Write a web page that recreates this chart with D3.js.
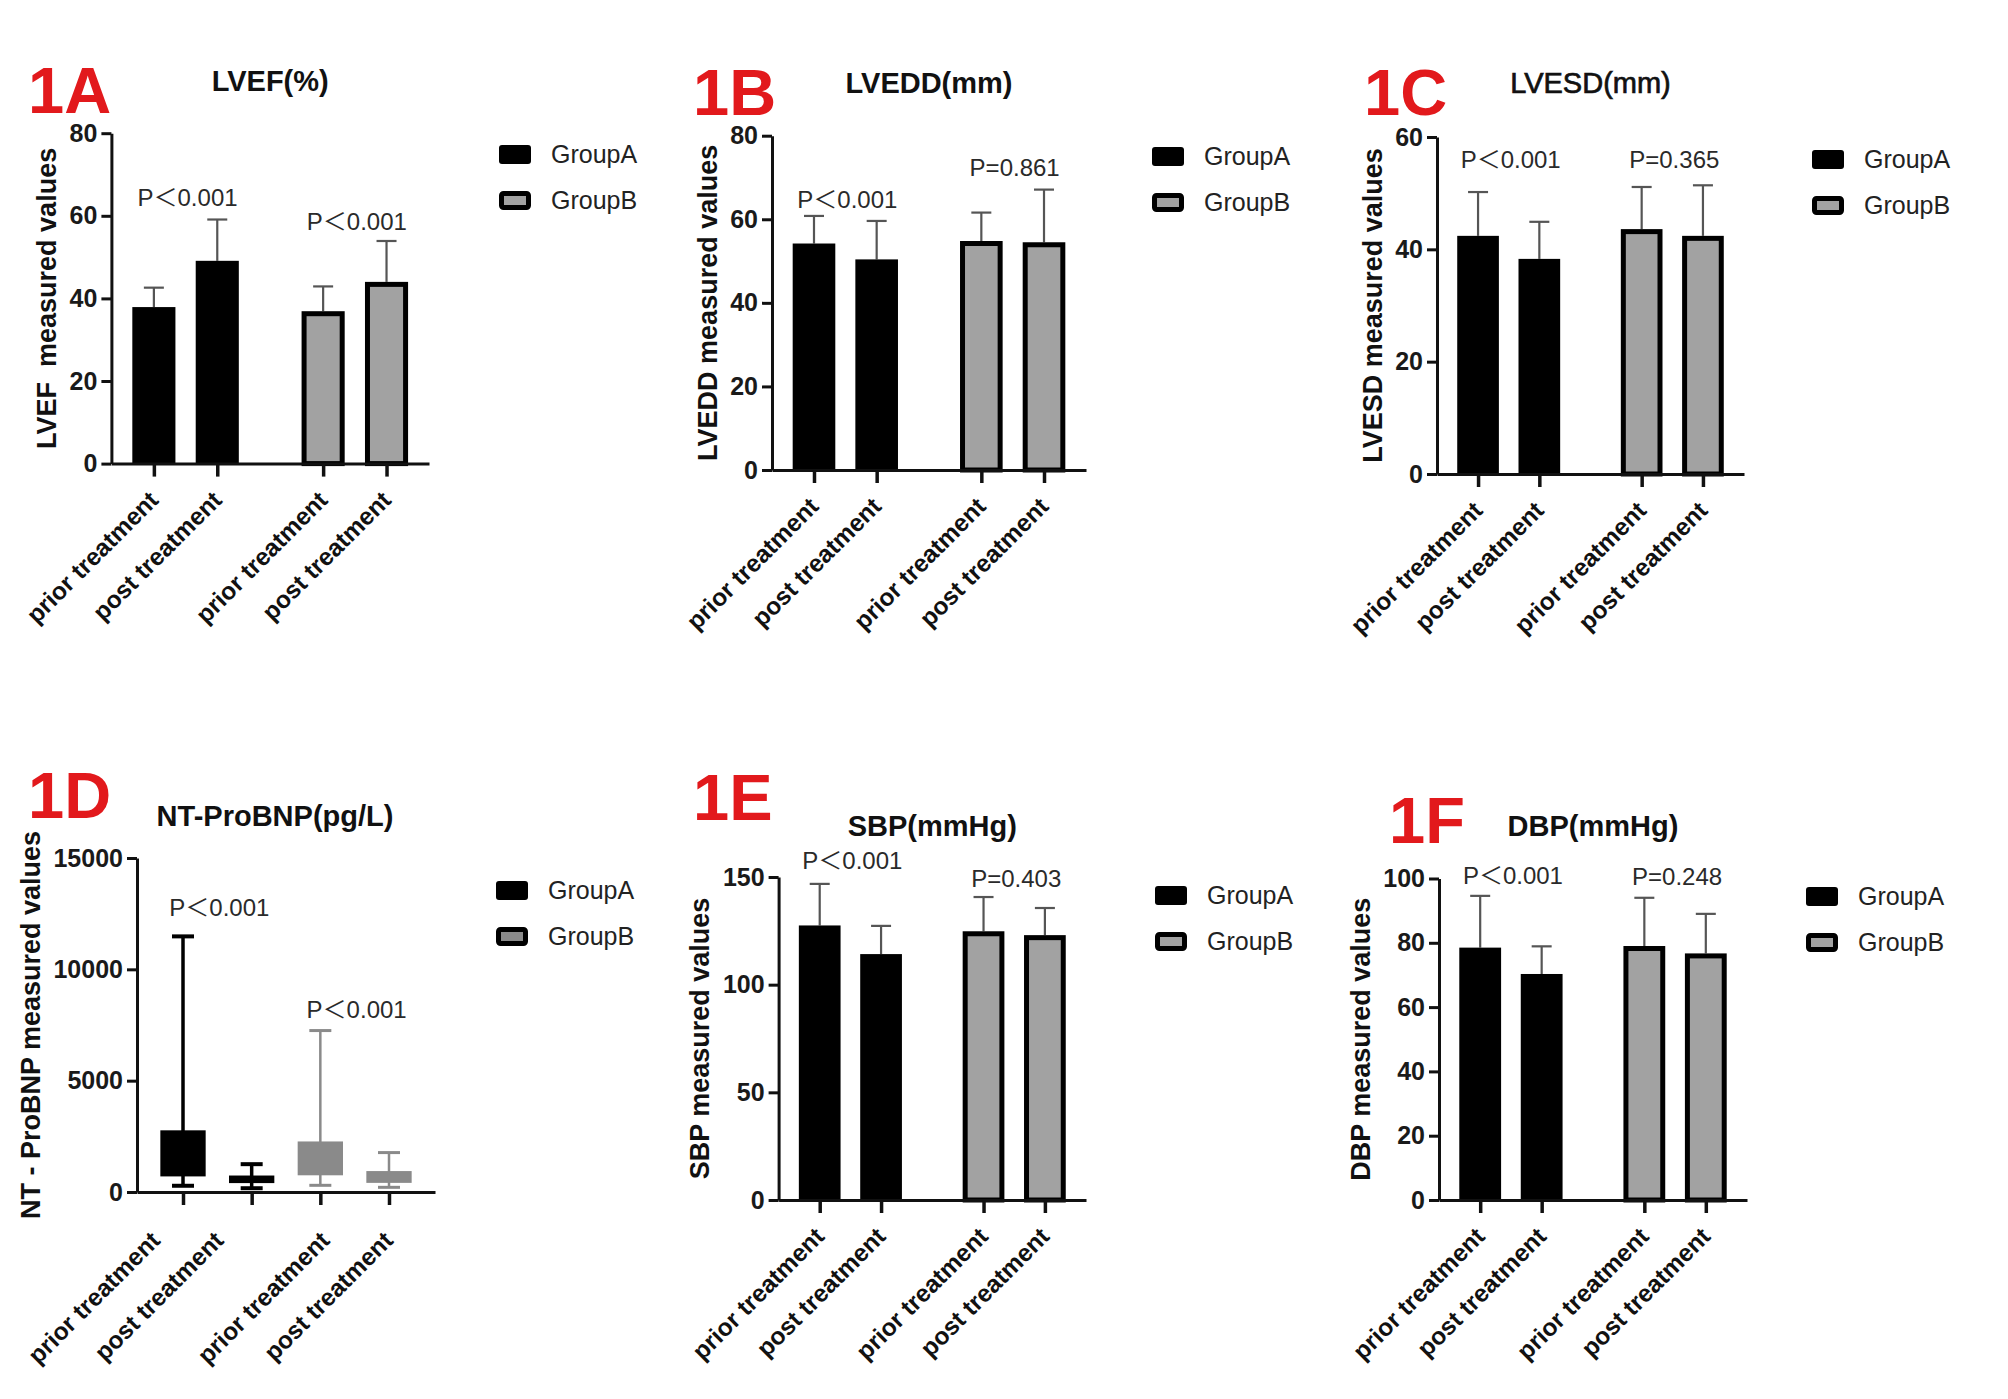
<!DOCTYPE html>
<html><head><meta charset="utf-8">
<script src="https://cdn.jsdelivr.net/npm/d3@7"></script>
<style>
body{margin:0;background:#fff}
svg{display:block}
text{font-family:"Liberation Sans",Arial,"Noto Sans CJK SC",sans-serif}
</style>
</head><body>
<svg id="chart" width="2008" height="1399"></svg>
<script>
// ---------- data ----------
const categories = ["prior treatment","post treatment","prior treatment","post treatment"];
const groupOf = ["GroupA","GroupA","GroupB","GroupB"];
const groupNames = ["GroupA","GroupB"];

const lvefTicks = [0,20,40,60,80];
const lvefMean  = [37.9, 49.1, 36.9, 44.0];
const lvefSD    = [4.7, 10.0, 6.0, 9.9];
const lvefP     = ["P＜0.001","P＜0.001"];
const lvefPY    = [64.5, 58.6];

const lveddTicks = [0,20,40,60,80];
const lveddMean  = [54.2, 50.4, 54.8, 54.5];
const lveddSD    = [6.6, 9.2, 6.8, 12.6];
const lveddP     = ["P＜0.001","P=0.861"];
const lveddPY    = [64.7, 72.3];

const lvesdTicks = [0,20,40,60];
const lvesdMean  = [42.4, 38.3, 43.6, 42.4];
const lvesdSD    = [7.8, 6.6, 7.5, 9.0];
const lvesdP     = ["P＜0.001","P=0.365"];
const lvesdPY    = [55.9, 55.9];

const bnpTicks = [0,5000,10000,15000];
const bnpMin   = [280, 170, 300, 210];
const bnpQ1    = [700, 400, 750, 410];
const bnpQ3    = [2770, 740, 2270, 940];
const bnpMax   = [11480, 1250, 7250, 1770];
const bnpP     = ["P＜0.001","P＜0.001"];
const bnpPY    = [12764, 8180];

const sbpTicks = [0,50,100,150];
const sbpMean  = [127.5, 114.2, 124.8, 123.0];
const sbpSD    = [19.3, 13.1, 15.9, 12.6];
const sbpP     = ["P＜0.001","P=0.403"];
const sbpPY    = [157.6, 149.3];

const dbpTicks = [0,20,40,60,80,100];
const dbpMean  = [78.5, 70.3, 79.0, 76.7];
const dbpSD    = [16.1, 8.6, 15.0, 12.3];
const dbpP     = ["P＜0.001","P=0.248"];
const dbpPY    = [100.8, 100.5];

// ---------- panels ----------
const panels = [
  {tag:"1A", title:"LVEF(%)", ylab:"LVEF  measured values", ticks:lvefTicks, mean:lvefMean, sd:lvefSD, p:lvefP, pY:lvefPY,
   L:{x0:111.4,x1:429,yT:133.2,yB:463.6, tagX:28,tagY:113, titleY:81, titleDx:0, legX:499, legY:145, lblDy:38}},
  {tag:"1B", title:"LVEDD(mm)", ylab:"LVEDD measured values", ticks:lveddTicks, mean:lveddMean, sd:lveddSD, p:lveddP, pY:lveddPY,
   L:{x0:772,x1:1086,yT:135.7,yB:470, tagX:693,tagY:115, titleY:83, titleDx:0, legX:1152, legY:147, lblDy:38}},
  {tag:"1C", title:"LVESD(mm)", ylab:"LVESD measured values", ticks:lvesdTicks, mean:lvesdMean, sd:lvesdSD, p:lvesdP, pY:lvesdPY, lightTitle:true,
   L:{x0:1437,x1:1744,yT:137,yB:474, tagX:1364,tagY:115, titleY:83, titleDx:0, legX:1812, legY:150, lblDy:38}},
  {tag:"1D", title:"NT-ProBNP(pg/L)", ylab:"NT - ProBNP measured values", ticks:bnpTicks, box:true,
   min:bnpMin, q1:bnpQ1, q3:bnpQ3, max:bnpMax, p:bnpP, pY:bnpPY,
   L:{x0:137,x1:435,yT:858,yB:1192, tagX:28,tagY:818, titleY:816, titleDx:-11, legX:496, legY:881, lblDy:50,
      lblX0:113, lblX1:431}},
  {tag:"1E", title:"SBP(mmHg)", ylab:"SBP measured values", ticks:sbpTicks, mean:sbpMean, sd:sbpSD, p:sbpP, pY:sbpPY,
   L:{x0:778.6,x1:1086,yT:877,yB:1200, tagX:693,tagY:820, titleY:826, titleDx:0, legX:1155, legY:886, lblDy:38}},
  {tag:"1F", title:"DBP(mmHg)", ylab:"DBP measured values", ticks:dbpTicks, mean:dbpMean, sd:dbpSD, p:dbpP, pY:dbpPY,
   L:{x0:1439,x1:1747,yT:878.5,yB:1200, tagX:1389,tagY:843, titleY:826, titleDx:0, legX:1806, legY:887, lblDy:38}}
];

const svg = d3.select("#chart");
const fillA = "#000", fillB = "#a2a2a2", boxB = "#8a8a8a";
const barSlots = [0,1,2.67,3.67];

panels.forEach(P => {
  const L = P.L;
  const g = svg.append("g");
  const slots = P.box ? [0,1,2,3] : barSlots;
  const x = d3.scaleLinear().domain([-0.67, P.box ? 3.67 : 4.34]).range([L.x0, L.x1]);
  const y = d3.scaleLinear().domain([0, d3.max(P.ticks)]).range([L.yB, L.yT]);
  const unit = x(1) - x(0);
  const bw = unit * (P.box ? 0.66 : 0.68);
  // label anchor scale (the box panel keeps the bar-layout label spacing)
  const xl = P.box ? d3.scaleLinear().domain([-0.67, 4.34]).range([L.lblX0, L.lblX1]) : x;

  // red tag
  g.append("text").attr("x", L.tagX).attr("y", L.tagY).text(P.tag)
    .attr("font-size", 65).attr("font-weight", "bold").attr("fill", "#e2191c");
  // title
  const t = g.append("text").attr("x", (L.x0 + L.x1) / 2 + L.titleDx).attr("y", L.titleY).attr("dy", "0.35em")
    .attr("text-anchor", "middle").attr("font-size", 29).attr("fill", "#111").text(P.title);
  if (P.lightTitle) t.attr("font-weight", "normal").attr("stroke", "#111").attr("stroke-width", 0.7);
  else t.attr("font-weight", "bold");

  // y axis
  const ya = g.append("g").attr("transform", `translate(${L.x0},0)`)
    .call(d3.axisLeft(y).tickValues(P.ticks).tickSize(10).tickSizeOuter(0).tickPadding(4).tickFormat(d3.format("d")));
  ya.select(".domain").attr("stroke", "#111").attr("stroke-width", 3);
  ya.selectAll(".tick line").attr("stroke", "#111").attr("stroke-width", 3);
  ya.selectAll(".tick text").attr("font-size", 25).attr("font-weight", "bold").attr("fill", "#1a1a1a")
    .attr("font-family", "'Liberation Sans',Arial,sans-serif");
  let maxW = 0;
  ya.selectAll(".tick text").each(function(){ maxW = Math.max(maxW, this.getBBox().width); });

  // y label
  const ly = (L.yT + L.yB) / 2;
  const lx = L.x0 - 14 - maxW - 23;
  g.append("text").attr("transform", `translate(${lx},${ly}) rotate(-90)`)
    .attr("text-anchor", "middle").attr("dy", "0.35em").attr("font-size", 27).attr("font-weight", "bold")
    .attr("fill", "#111").style("white-space", "pre").text(P.ylab);

  // marks
  if (!P.box) {
    slots.forEach((s, i) => {
      const cx = x(s);
      const isB = groupOf[i] === "GroupB";
      const top = y(P.mean[i] + P.sd[i]);
      g.append("line").attr("x1", cx).attr("x2", cx).attr("y1", y(P.mean[i])).attr("y2", top)
        .attr("stroke", "#555").attr("stroke-width", 2.2);
      g.append("line").attr("x1", cx - 10).attr("x2", cx + 10).attr("y1", top).attr("y2", top)
        .attr("stroke", "#555").attr("stroke-width", 2.2);
      if (isB) {
        const sw = 5;
        g.append("rect").attr("x", cx - bw/2 + sw/2).attr("width", bw - sw)
          .attr("y", y(P.mean[i]) + sw/2).attr("height", L.yB - y(P.mean[i]) - sw/2)
          .attr("fill", fillB).attr("stroke", "#000").attr("stroke-width", sw);
      } else {
        g.append("rect").attr("x", cx - bw/2).attr("width", bw)
          .attr("y", y(P.mean[i])).attr("height", L.yB - y(P.mean[i])).attr("fill", fillA);
      }
    });
  } else {
    slots.forEach((s, i) => {
      const cx = x(s);
      const isB = groupOf[i] === "GroupB";
      const col = isB ? boxB : "#000";
      const sw = isB ? 2.5 : 3.5;
      g.append("line").attr("x1", cx).attr("x2", cx).attr("y1", y(P.min[i])).attr("y2", y(P.max[i]))
        .attr("stroke", col).attr("stroke-width", sw);
      [P.min[i], P.max[i]].forEach(v => {
        g.append("line").attr("x1", cx - 11).attr("x2", cx + 11).attr("y1", y(v)).attr("y2", y(v))
          .attr("stroke", col).attr("stroke-width", sw + 0.5);
      });
      g.append("rect").attr("x", cx - bw/2).attr("width", bw)
        .attr("y", y(P.q3[i])).attr("height", y(P.q1[i]) - y(P.q3[i])).attr("fill", col);
    });
  }

  // x axis
  const xa = g.append("g").attr("transform", `translate(0,${L.yB})`)
    .call(d3.axisBottom(x).tickValues(slots).tickSize(13).tickSizeOuter(0).tickFormat(""));
  xa.select(".domain").attr("stroke", "#111").attr("stroke-width", 3);
  xa.selectAll(".tick line").attr("stroke", "#111").attr("stroke-width", 3.5);
  g.selectAll(".xlab").data(categories).enter().append("text")
    .attr("transform", (d, i) => `translate(${xl(barSlots[i]) + 6},${L.yB + L.lblDy}) rotate(-45)`)
    .attr("text-anchor", "end").attr("font-size", 24.5).attr("font-weight", "bold").attr("fill", "#111")
    .text(d => d);

  // p-values
  [[0,1],[2,3]].forEach((pair, k) => {
    const cx = (x(slots[pair[0]]) + x(slots[pair[1]])) / 2 + 2;
    g.append("text").attr("x", cx).attr("y", y(P.pY[k])).attr("dy", "0.35em")
      .attr("text-anchor", "middle").attr("font-size", 24).attr("fill", "#2a2a2a").text(P.p[k]);
  });

  // legend
  groupNames.forEach((nm, k) => {
    const yy = L.legY + k * 46;
    if (k === 0) {
      g.append("rect").attr("x", L.legX).attr("y", yy).attr("width", 32).attr("height", 19).attr("rx", 3)
        .attr("fill", "#000");
    } else {
      g.append("rect").attr("x", L.legX + 2.5).attr("y", yy + 2.5).attr("width", 27).attr("height", 14).attr("rx", 2)
        .attr("fill", P.box ? boxB : fillB).attr("stroke", "#000").attr("stroke-width", 5);
    }
    g.append("text").attr("x", L.legX + 52).attr("y", yy + 9.5).attr("dy", "0.35em")
      .attr("font-size", 25).attr("fill", "#222").text(nm);
  });
});
</script>
</body></html>
